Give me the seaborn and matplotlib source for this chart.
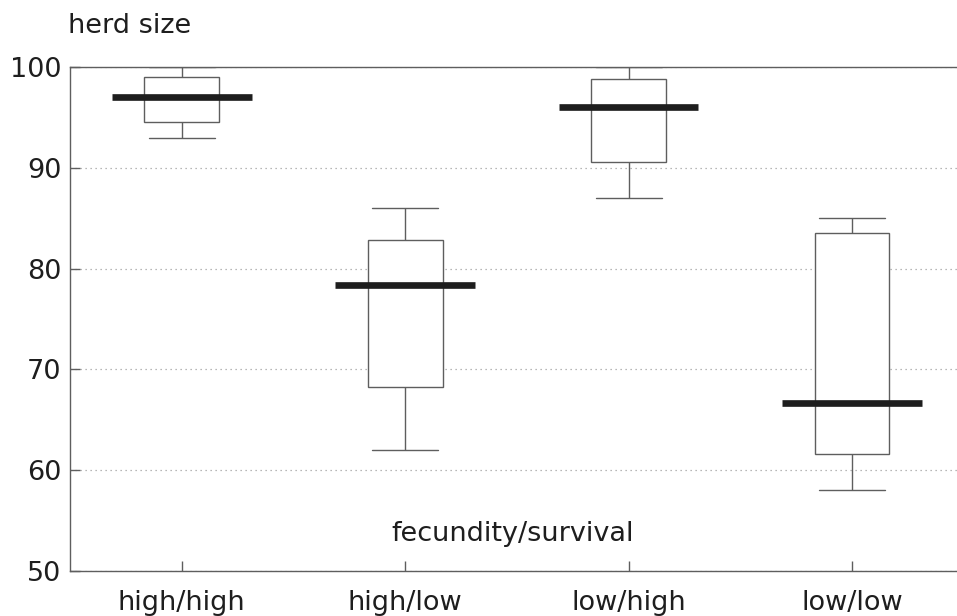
import numpy as np
import pandas as pd
import seaborn as sns
import matplotlib.pyplot as plt

# ---- data ----
categories = ["high/high", "high/low", "low/high", "low/low"]
whisker_low = [93.0, 62.0, 87.0, 58.0]
q1 = [94.5, 68.3, 90.6, 61.6]
median = [97.0, 78.4, 96.0, 66.7]
q3 = [99.0, 82.8, 98.8, 83.5]
whisker_high = [100.0, 86.0, 100.0, 85.0]
y_ticks = [50, 60, 70, 80, 90, 100]

# five values per group reproduce min / q1 / median / q3 / max exactly
rows = []
for c, a, b, m, d, e in zip(categories, whisker_low, q1, median, q3, whisker_high):
    for v in (a, b, m, d, e):
        rows.append({"group": c, "herd size": v})
df = pd.DataFrame(rows)

sns.set_theme(style="white")
plt.rcParams['font.family'] = ['DejaVu Sans']

fig = plt.figure(figsize=(9.57, 6.16), dpi=100)
ax = fig.add_axes([70 / 957, 1 - 571 / 616, 1 - 70 / 957, (571 - 67) / 616])

edge = "#5e5e5e"
ax.yaxis.grid(True, linestyle=(0, (1, 3)), color="#a0a0a0", linewidth=0.9)
ax.set_axisbelow(True)

# boxes, whiskers, caps
sns.boxplot(data=df, x="group", y="herd size", order=categories,
            whis=np.inf, width=0.335, color="white", linecolor=edge,
            linewidth=1.0, fill=True, capwidths=0.295,
            medianprops={"linewidth": 0}, ax=ax)
# wide thick medians
sns.boxplot(data=df, x="group", y="herd size", order=categories,
            whis=np.inf, width=0.626, fill=False, color="#1e1e1e",
            boxprops={"visible": False}, whiskerprops={"visible": False},
            capprops={"visible": False},
            medianprops={"color": "#1e1e1e", "linewidth": 4.8, "solid_capstyle": "butt"},
            ax=ax)

ax.set_xlim(-0.5, 3.47)
ax.set_ylim(50, 100)
ax.set_yticks(y_ticks)
ax.set_xlabel("")
ax.set_ylabel("")

for s in ("top", "left", "bottom"):
    ax.spines[s].set_visible(True)
    ax.spines[s].set_color(edge)
    ax.spines[s].set_linewidth(1.0)
ax.spines["right"].set_visible(False)

ax.tick_params(axis="both", direction="in", length=7, width=1.0, color=edge,
               labelsize=19.5, labelcolor="#1e1e1e")
ax.tick_params(axis="y", pad=6, left=True)
ax.tick_params(axis="x", pad=14, bottom=True)

fig.text(68 / 957, 1 - 33 / 616, "herd size", fontsize=19.5, color="#1e1e1e",
         ha="left", va="baseline")
fig.text(513 / 957, 1 - 541 / 616, "fecundity/survival", fontsize=19.5,
         color="#1e1e1e", ha="center", va="baseline")

fig.savefig("out.png", dpi=100)
